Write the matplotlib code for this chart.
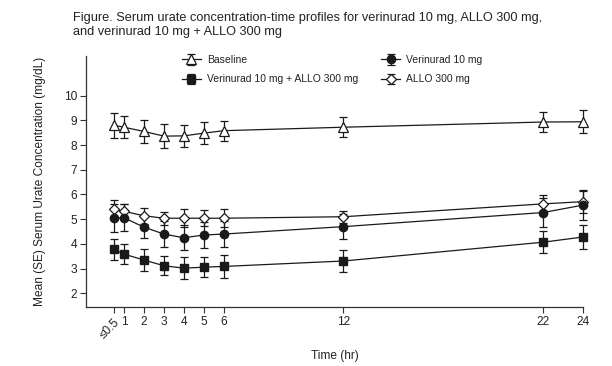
import matplotlib
matplotlib.use("Agg")
import matplotlib.pyplot as plt

plt.rcParams['font.family'] = ['Liberation Sans', 'DejaVu Sans']

time_hr = [0.5, 1, 2, 3, 4, 5, 6, 12, 22, 24]
tick_labels = ["\u22640.5", "1", "2", "3", "4", "5", "6", "12", "22", "24"]

baseline = [8.80, 8.72, 8.55, 8.36, 8.37, 8.48, 8.58, 8.72, 8.93, 8.94]
baseline_se = [0.50, 0.44, 0.47, 0.50, 0.45, 0.45, 0.40, 0.40, 0.41, 0.47]

verinurad = [5.04, 5.06, 4.68, 4.40, 4.25, 4.36, 4.40, 4.70, 5.27, 5.57]
verinurad_se = [0.56, 0.55, 0.45, 0.54, 0.50, 0.54, 0.51, 0.50, 0.57, 0.59]

allo = [5.41, 5.32, 5.14, 5.04, 5.04, 5.04, 5.04, 5.10, 5.62, 5.71]
allo_se = [0.36, 0.30, 0.33, 0.26, 0.37, 0.32, 0.37, 0.24, 0.37, 0.47]

combo = [3.78, 3.59, 3.35, 3.12, 3.02, 3.06, 3.09, 3.31, 4.07, 4.28]
combo_se = [0.41, 0.42, 0.43, 0.38, 0.45, 0.41, 0.45, 0.43, 0.45, 0.50]

W, H = 612, 366
fig = plt.figure(figsize=(W / 100, H / 100), dpi=100)
ax = fig.add_axes([86 / W, 1 - 307 / H, (583 - 86) / W, (307 - 56) / H])

col = '#1a1a1a'
common = dict(color=col, lw=0.9, elinewidth=0.9, capsize=2.6, capthick=0.9, clip_on=False)

h_base = ax.errorbar(time_hr, baseline, yerr=baseline_se, marker='^', ms=6.5,
                     mfc='white', mec=col, mew=0.9, label='Baseline', **common)
h_allo = ax.errorbar(time_hr, allo, yerr=allo_se, marker='D', ms=4.6,
                     mfc='white', mec=col, mew=0.9, label='ALLO 300 mg', **common)
h_ver = ax.errorbar(time_hr, verinurad, yerr=verinurad_se, marker='o', ms=6.0,
                    mfc=col, mec=col, label='Verinurad 10 mg', **common)
h_combo = ax.errorbar(time_hr, combo, yerr=combo_se, marker='s', ms=6.3,
                      mfc=col, mec=col, label='Verinurad 10 mg + ALLO 300 mg', **common)

ax.set_xlim(-0.9, 24)
ax.set_ylim(1.45, 11.6)
ax.set_yticks([2, 3, 4, 5, 6, 7, 8, 9, 10])
ax.set_xticks(time_hr)
ax.set_xticklabels(tick_labels)
for lbl in ax.get_xticklabels():
    if lbl.get_text().startswith("\u2264"):
        lbl.set_rotation(45)
        lbl.set_ha('right')
        lbl.set_va('top')
        lbl.set_rotation_mode('anchor')

for s in ['top', 'right']:
    ax.spines[s].set_visible(False)
for s in ['left', 'bottom']:
    ax.spines[s].set_linewidth(0.9)
    ax.spines[s].set_color('#333333')
ax.tick_params(axis='both', length=4, width=0.8, colors='#333333', labelsize=8.6,
               labelcolor='#222222', pad=2.5)

ax.set_xlabel('Time (hr)', fontsize=8.6, color='#222222', labelpad=7)
ax.set_ylabel('Mean (SE) Serum Urate Concentration (mg/dL)', fontsize=8.6,
              color='#222222', labelpad=13)

leg = fig.legend([h_base, h_combo, h_ver, h_allo],
                 ['Baseline', 'Verinurad 10 mg + ALLO 300 mg', 'Verinurad 10 mg', 'ALLO 300 mg'],
                 loc='upper left', bbox_to_anchor=(182 / W, 1 - 55 / H), ncol=2,
                 frameon=False, fontsize=7.5, handlelength=1.8, handletextpad=0.6,
                 columnspacing=2.2, labelspacing=0.9, borderpad=0, borderaxespad=0)
for t in leg.get_texts():
    t.set_color('#222222')

fig.text(73 / W, 1 - 25 / H,
         'Figure. Serum urate concentration-time profiles for verinurad 10 mg, ALLO 300 mg,\n'
         'and verinurad 10 mg + ALLO 300 mg',
         fontsize=9.2, color='#222222', va='center', ha='left', linespacing=1.2)

fig.savefig('out.png', dpi=100)
